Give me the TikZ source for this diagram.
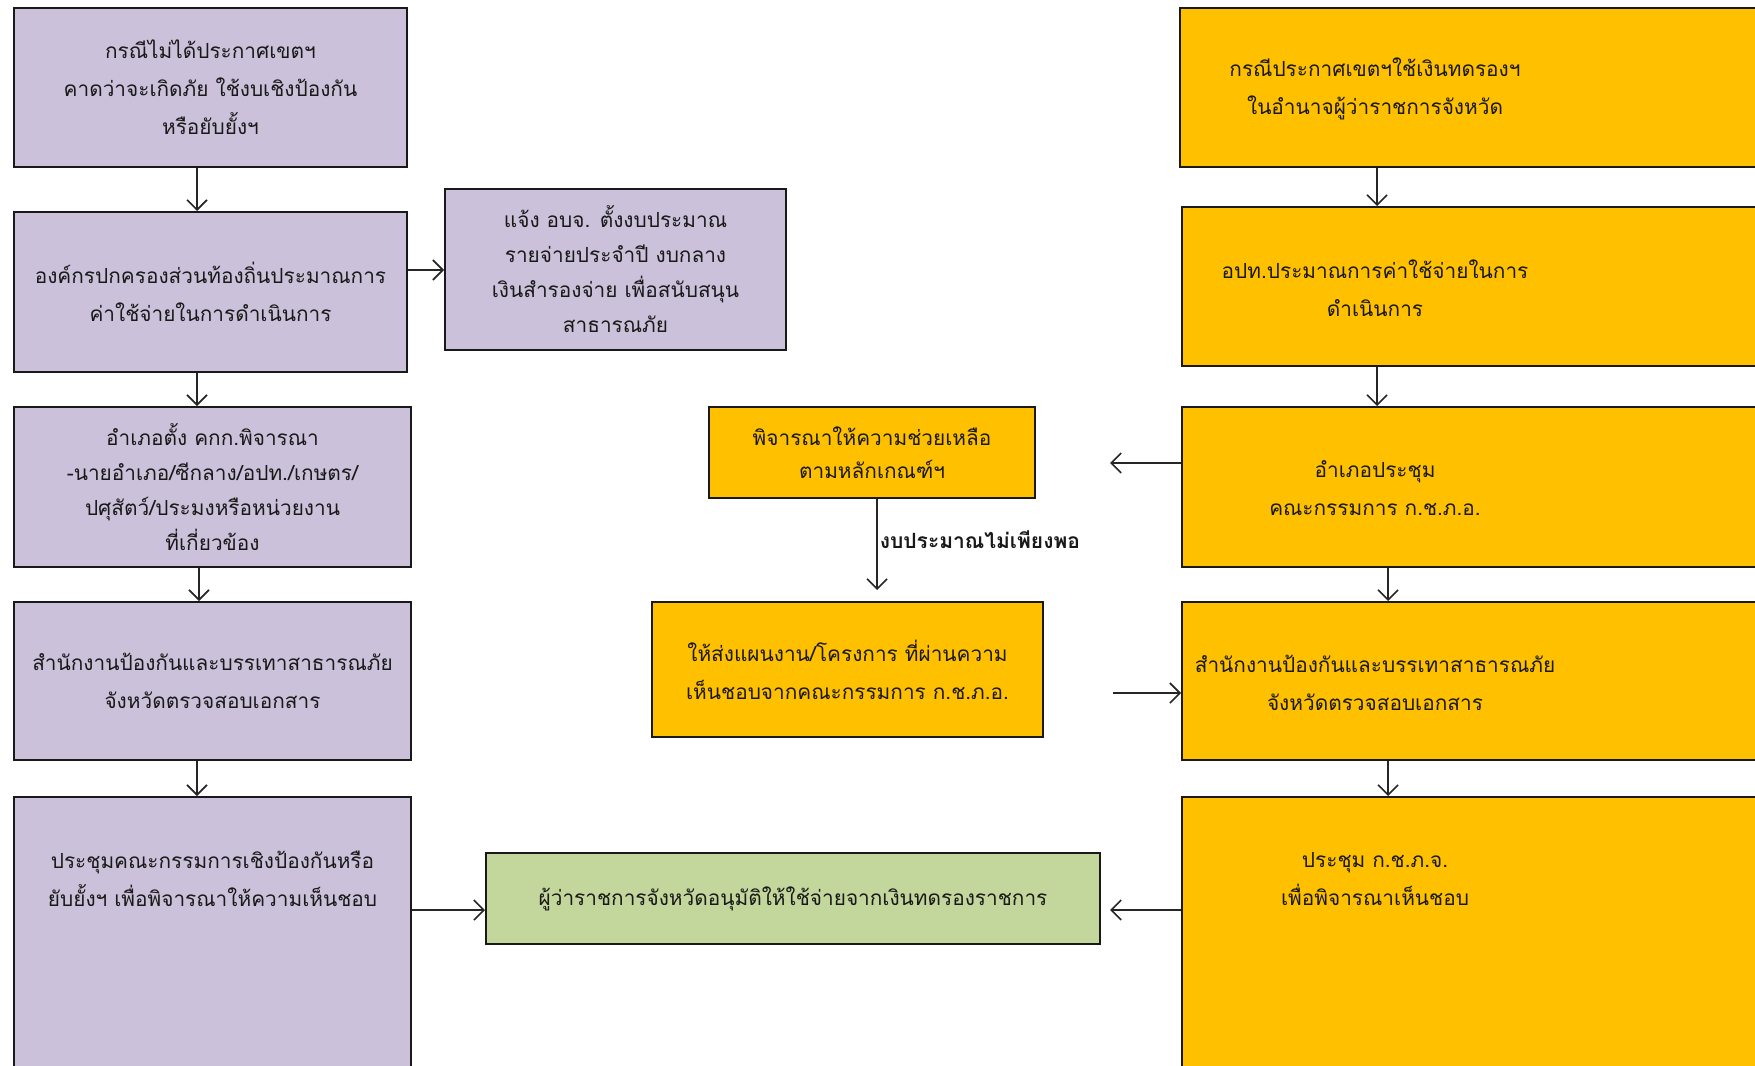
\documentclass[tikz,border=0pt]{standalone}
\usepackage{fontspec}
\newfontfamily\thaifont[Script=Thai]{Loma}
\usetikzlibrary{arrows.meta}
\definecolor{purp}{RGB}{204,193,218}
\definecolor{orng}{RGB}{255,192,0}
\definecolor{grn}{RGB}{195,214,155}
\begin{document}
\begin{tikzpicture}[x=0.5pt,y=-0.5pt,
  every node/.style={font=\thaifont\fontsize{10.4pt}{19pt}\selectfont, text=black!90},
  box/.style={draw=black!90, line width=1pt, rectangle, align=center, inner sep=0pt},
  pbox/.style={box, fill=purp},
  obox/.style={box, fill=orng},
  gbox/.style={box, fill=grn},
  txt/.style={align=center, inner sep=0pt},
  arr/.style={draw=black!85, line width=0.8pt, -{Straight Barb[length=5pt,width=10pt]}}]
\useasboundingbox (0,0) rectangle (1755,1065);
\clip (0,0) rectangle (1755,1065);
% left column
\node[pbox, minimum width=196.5pt, minimum height=79.5pt] (l1) at (210.5,87.5)
  {กรณีไม่ได้ประกาศเขตฯ\\คาดว่าจะเกิดภัย ใช้งบเชิงป้องกัน\\หรือยับยั้งฯ};
\node[pbox, minimum width=196.5pt, minimum height=80pt] (l2) at (210.5,292)
  {องค์กรปกครองส่วนท้องถิ่นประมาณการ\\ค่าใช้จ่ายในการดำเนินการ};
\node[pbox, minimum width=170.5pt, minimum height=80.5pt, font=\thaifont\fontsize{10.4pt}{17.5pt}\selectfont] (nt) at (615.5,269.5)
  {แจ้ง อบจ. ตั้งงบประมาณ\\รายจ่ายประจำปี งบกลาง\\เงินสำรองจ่าย เพื่อสนับสนุน\\สาธารณภัย};
\node[pbox, minimum width=198.5pt, minimum height=80pt, font=\thaifont\fontsize{10.4pt}{17.5pt}\selectfont] (l3) at (212.5,487)
  {อำเภอตั้ง คกก.พิจารณา\\-นายอำเภอ/ซีกลาง/อปท./เกษตร/\\ปศุสัตว์/ประมงหรือหน่วยงาน\\ที่เกี่ยวข้อง};
\node[pbox, minimum width=198.5pt, minimum height=79pt] (l4) at (212.5,681)
  {สำนักงานป้องกันและบรรเทาสาธารณภัย\\จังหวัดตรวจสอบเอกสาร};
\node[pbox, minimum width=198.5pt, minimum height=146.5pt] (l5) at (212.5,943.5) {};
\node[txt] (l5t) at (212.5,879)
  {ประชุมคณะกรรมการเชิงป้องกันหรือ\\ยับยั้งฯ เพื่อพิจารณาให้ความเห็นชอบ};
% green
\node[gbox, minimum width=307pt, minimum height=45.5pt] (g) at (793,898.5)
  {ผู้ว่าราชการจังหวัดอนุมัติให้ใช้จ่ายจากเงินทดรองราชการ};
% middle
\node[obox, minimum width=163pt, minimum height=45.5pt, font=\thaifont\fontsize{10.4pt}{16.5pt}\selectfont] (m1) at (872,452.5)
  {พิจารณาให้ความช่วยเหลือ\\ตามหลักเกณฑ์ฯ};
\node[obox, minimum width=195.5pt, minimum height=67.5pt] (m2) at (847.5,669.5)
  {ให้ส่งแผนงาน/โครงการ ที่ผ่านความ\\เห็นชอบจากคณะกรรมการ ก.ช.ภ.อ.};
% right column
\node[obox, minimum width=310pt, minimum height=79.5pt] (r1) at (1490,87.5) {};
\node[txt] (r1t) at (1375,89) {กรณีประกาศเขตฯใช้เงินทดรองฯ\\ในอำนาจผู้ว่าราชการจังหวัด};
\node[obox, minimum width=309pt, minimum height=79.5pt] (r2) at (1491,286.5) {};
\node[txt] (r2t) at (1375,288) {อปท.ประมาณการค่าใช้จ่ายในการ\\ดำเนินการ};
\node[obox, minimum width=309pt, minimum height=80pt] (r3) at (1491,487) {};
\node[txt] (r3t) at (1375,488) {อำเภอประชุม\\คณะกรรมการ ก.ช.ภ.อ.};
\node[obox, minimum width=309pt, minimum height=79pt] (r4) at (1491,681) {};
\node[txt] (r4t) at (1375,683) {สำนักงานป้องกันและบรรเทาสาธารณภัย\\จังหวัดตรวจสอบเอกสาร};
\node[obox, minimum width=309pt, minimum height=146.5pt] (r5) at (1491,943.5) {};
\node[txt] (r5t) at (1375,879) {ประชุม ก.ช.ภ.จ.\\เพื่อพิจารณาเห็นชอบ};
% free-end coordinates
\coordinate (m1in) at (1110,463);
\coordinate (m2in) at (877,590);
\coordinate (r4from) at (1113,693);
\coordinate (gin) at (1110,910);
% arrows left
\draw[arr] (l1.south -| 197,0) -- (l2.north -| 197,0);
\draw[arr] (l2.east |- 0,270) -- (nt.west |- 0,270);
\draw[arr] (l2.south -| 197,0) -- (l3.north -| 197,0);
\draw[arr] (l3.south -| 199,0) -- (l4.north -| 199,0);
\draw[arr] (l4.south -| 197,0) -- (l5.north -| 197,0);
\draw[arr] (l5.east |- 0,910) -- (g.west |- 0,910);
% arrows right
\draw[arr] (r1.south -| 1377,0) -- (r2.north -| 1377,0);
\draw[arr] (r2.south -| 1377,0) -- (r3.north -| 1377,0);
\draw[arr] (r3.south -| 1388,0) -- (r4.north -| 1388,0);
\draw[arr] (r4.south -| 1388,0) -- (r5.north -| 1388,0);
\draw[arr] (r3.west |- m1in) -- (m1in);
\draw[arr] (m1.south -| m2in) -- (m2in)
  node[pos=0.45, right=1pt, inner sep=0pt, font=\thaifont\bfseries\fontsize{10.5pt}{12pt}\selectfont] (lbl) {งบประมาณไม่เพียงพอ};
\draw[arr] (r4from) -- (r4.west |- r4from);
\draw[arr] (r5.west |- gin) -- (gin);
\end{tikzpicture}
\end{document}
